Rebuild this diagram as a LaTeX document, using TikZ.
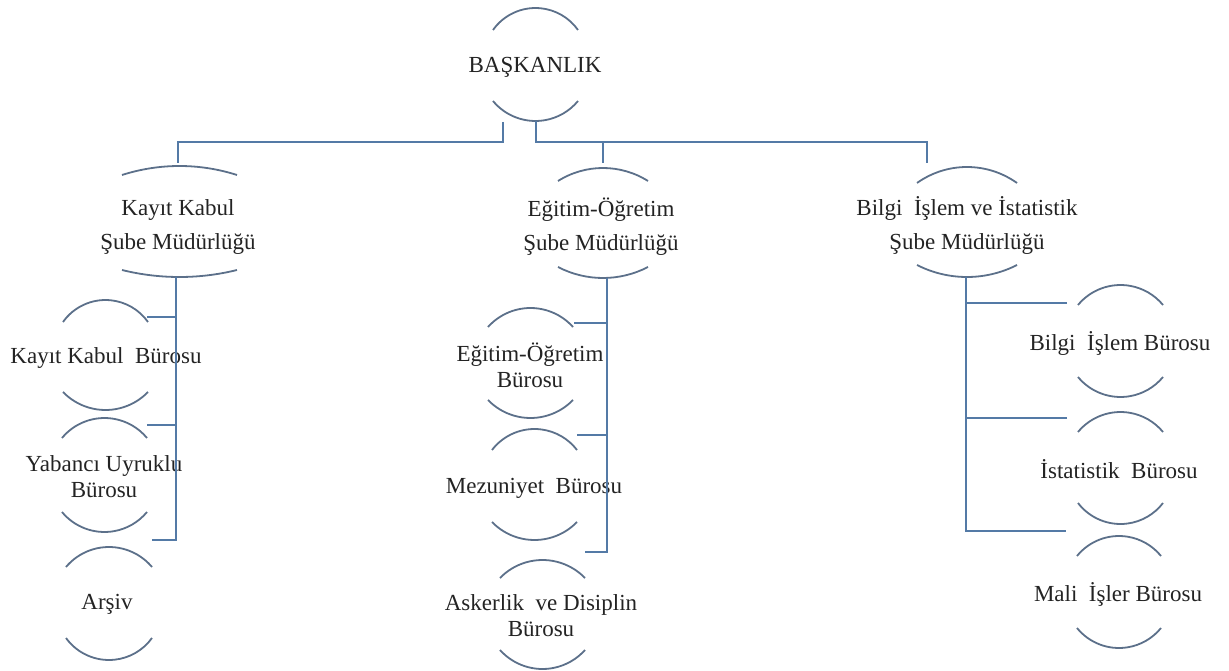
\documentclass[tikz,border=0pt]{standalone}
\usepackage{fontspec}
\setmainfont{Liberation Serif}
\definecolor{arccol}{RGB}{92,112,138}
\definecolor{conncol}{RGB}{84,122,166}
\definecolor{txtcol}{RGB}{35,35,35}
% #1 cx, #2 top, #3 bottom, #4 half chord, #5 sag of top arc, #6 sag of bottom arc
\newcommand{\orgarcs}[6]{%
  \pgfmathsetmacro{\Rt}{(#4*#4+#5*#5)/(2*#5)}%
  \pgfmathsetmacro{\At}{asin(#4/\Rt)}%
  \pgfmathsetmacro{\Rb}{(#4*#4+#6*#6)/(2*#6)}%
  \pgfmathsetmacro{\Ab}{asin(#4/\Rb)}%
  \draw[arcline] ({#1-#4},{-#2-#5}) arc[start angle={90+\At}, end angle={90-\At}, radius=\Rt pt];
  \draw[arcline] ({#1-#4},{-#3+#6}) arc[start angle={270-\Ab}, end angle={270+\Ab}, radius=\Rb pt];
}
\begin{document}
\begin{tikzpicture}[x=1pt,y=1pt,
  arcline/.style={draw=arccol, line width=1.8pt},
  conn/.style={draw=conncol, line width=2pt},
  lvtwo/.style={text=txtcol, align=center, inner sep=0pt, font=\fontsize{23}{34}\selectfont},
  lvthree/.style={text=txtcol, align=center, inner sep=0pt, font=\fontsize{23}{26}\selectfont}]
\useasboundingbox (0,0) rectangle (1229,-671);

% ---- text nodes ----
\node[lvtwo] (bk) at (535,-67) {BAŞKANLIK};
\node[lvtwo] (kk) at (178,-227) {Kayıt Kabul\\Şube Müdürlüğü};
\node[lvtwo] (eo) at (601,-227) {Eğitim-Öğretim\\Şube Müdürlüğü};
\node[lvtwo] (bi) at (967,-225) {Bilgi\ \ İşlem ve İstatistik\\Şube Müdürlüğü};
\node[lvthree] (l1) at (106,-358) {Kayıt Kabul\ \ Bürosu};
\node[lvthree] (l2) at (104,-477) {Yabancı Uyruklu\\Bürosu};
\node[lvthree] (l3) at (107,-604) {Arşiv};
\node[lvthree] (m1) at (530,-365) {Eğitim-Öğretim\\Bürosu};
\node[lvthree] (m2) at (534,-488) {Mezuniyet\ \ Bürosu};
\node[lvthree] (m3) at (541,-616) {Askerlik\ \ ve Disiplin\\Bürosu};
\node[lvthree] (r1) at (1120,-343) {Bilgi\ \ İşlem Bürosu};
\node[lvthree] (r2) at (1119,-469) {İstatistik\ \ Bürosu};
\node[lvthree] (r3) at (1118,-594) {Mali\ \ İşler Bürosu};

% ---- arcs ----
\orgarcs{535.5}{8}{121}{42.5}{22}{20}
\orgarcs{179.5}{166}{277}{57.5}{9}{7}
\orgarcs{603}{168}{278}{45}{13}{11}
\orgarcs{967}{167}{277}{50}{16}{12}
\orgarcs{105.5}{300}{410}{42.5}{22}{18}
\orgarcs{104.5}{418}{532}{42.5}{20}{20}
\orgarcs{109}{547}{660}{43}{20}{22}
\orgarcs{530.5}{308}{418}{42.5}{19}{18}
\orgarcs{534.5}{429}{540}{42.5}{21}{18}
\orgarcs{542.5}{560}{669}{42.5}{18}{19}
\orgarcs{1120.5}{285}{397}{42.5}{20}{20}
\orgarcs{1120.5}{412}{524}{42.5}{20}{21}
\orgarcs{1119}{536}{648}{42}{20}{20}

% ---- connector end points ----
\coordinate (busY) at (0,-142);
\coordinate (bk-l) at (503,-122);
\coordinate (bk-r) at (536,-121);
\coordinate (kk-in) at (178,-163);
\coordinate (eo-in) at (603,-163);
\coordinate (bi-in) at (927,-163);
\coordinate (kk-out) at (176,-277);
\coordinate (eo-out) at (607,-278);
\coordinate (bi-out) at (966,-277);
\coordinate (l1-in) at (147,-317);
\coordinate (l2-in) at (147,-425);
\coordinate (l3-in) at (152,-540);
\coordinate (m1-in) at (574,-323);
\coordinate (m2-in) at (577,-435);
\coordinate (m3-in) at (585,-552);
\coordinate (r1-in) at (1067,-303);
\coordinate (r2-in) at (1067,-418);
\coordinate (r3-in) at (1066,-531);

% ---- connectors ----
\draw[conn] (bk-l) -- (bk-l |- busY) -| (kk-in);
\draw[conn] (bk-r) -- (bk-r |- busY) -| (bi-in);
\draw[conn] (eo-in |- busY) -- (eo-in);
\draw[conn] (kk-out) |- (l3-in);
\draw[conn] (l1-in) -- (l1-in -| kk-out);
\draw[conn] (l2-in) -- (l2-in -| kk-out);
\draw[conn] (eo-out) |- (m3-in);
\draw[conn] (m1-in) -- (m1-in -| eo-out);
\draw[conn] (m2-in) -- (m2-in -| eo-out);
\draw[conn] (bi-out) |- (r3-in);
\draw[conn] (r1-in) -- (r1-in -| bi-out);
\draw[conn] (r2-in) -- (r2-in -| bi-out);
\end{tikzpicture}
\end{document}
